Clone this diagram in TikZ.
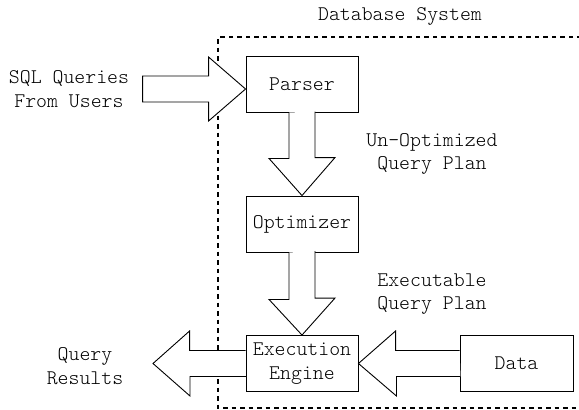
\documentclass[tikz,border=0pt]{standalone}
\usepackage{fontspec}
\setmonofont{Latin Modern Mono Light}
\usetikzlibrary{calc}
\begin{document}
\begin{tikzpicture}[x=1pt,y=-1pt,
  every node/.style={font=\ttfamily\fontsize{20.8}{23.5}\selectfont, align=center, inner sep=0pt},
  blockbox/.style={draw, line width=0.9pt, minimum width=112pt, minimum height=56pt},
  blockarrow/.style={draw, line width=0.9pt, fill=white, line join=miter}]
\useasboundingbox (0,0) rectangle (579,410);
% dashed system boundary
\draw[line width=1.5pt, dash pattern=on 4.5pt off 4pt] (590,37) -- (218,37) -- (218,408) -- (590,408);
\node (title) at (400,16) {Database System};
% boxes
\node[blockbox] (parser) at (302,84) {Parser};
\node[blockbox] (optim) at (302,224) {Optimizer};
\node[blockbox] (exec) at (302,363.5) {Execution\\Engine};
\node[blockbox, minimum width=113pt] (data) at (516.5,363.5) {Data};
% labels
\node (sql) at (69,89) {SQL Queries\\From Users};
\node (unopt) at (432,154) {Un-Optimized\\Query Plan};
\node (execplan) at (432,294) {Executable\\Query Plan};
\node (results) at (85,366) {Query\\Results};
% input arrow to parser
\coordinate (intip) at ($(parser.west)+(0,5)$);
\draw[blockarrow] (intip) -- ++(-37,-32) -- ++(0,19) -- ++(-66,0) -- ++(0,26) -- ++(66,0) -- ++(0,19) -- cycle;
% parser -> optimizer
\draw[blockarrow] (parser.south) ++(-13,0) -- ++(0,46) -- ++(-20,0) -- (optim.north) -- ++(33,-38) -- ++(-20,0) -- ++(0,-46);
% optimizer -> execution
\draw[blockarrow] (optim.south) ++(-13,0) -- ++(0,47) -- ++(-20,0) -- (exec.north) -- ++(33,-37) -- ++(-20,0) -- ++(0,-47);
% execution -> results
\coordinate (outtip) at (153,363.5);
\draw[blockarrow] (exec.west) ++(0,-13) -- ++(-56,0) -- ++(0,-19.5) -- (outtip) -- ++(37,32.5) -- ++(0,-19.5) -- ++(56,0);
% data -> execution
\draw[blockarrow] (data.west) ++(0,-13) -- ++(-64,0) -- ++(0,-19.5) -- (exec.east) -- ++(38,32.5) -- ++(0,-19.5) -- ++(64,0);
\end{tikzpicture}
\end{document}
